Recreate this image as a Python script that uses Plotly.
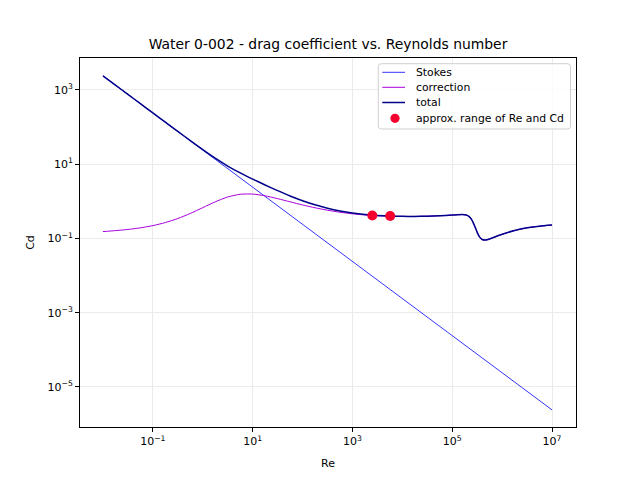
import plotly.graph_objects as go

# Reynolds numbers (read along the x axis)
re_vals = [1.0e-2, 1.778e-2, 3.162e-2, 5.623e-2, 1.0e-1, 1.778e-1, 3.162e-1, 5.623e-1,
           1.0, 1.778, 3.162, 5.623, 10.0, 17.78, 31.62, 56.23, 100.0, 177.8, 316.2, 562.3,
           1.0e3, 1.778e3, 3.162e3, 5.623e3, 1.0e4, 1.778e4, 3.162e4, 5.623e4,
           1.0e5, 1.259e5, 1.585e5, 1.778e5, 1.995e5, 2.239e5, 2.512e5, 2.818e5, 3.162e5,
           3.548e5, 3.981e5, 4.467e5, 5.012e5, 5.623e5, 6.310e5,
           1.0e6, 1.778e6, 3.162e6, 5.623e6, 1.0e7]

stokes_cd = [2400.0, 1349.6, 758.9, 426.8, 240.0, 134.96, 75.89, 42.68,
             24.0, 13.496, 7.589, 4.268, 2.4, 1.3496, 0.7589, 0.4268, 0.24, 0.13496, 0.07589, 0.04268,
             0.024, 0.013496, 0.007589, 0.004268, 0.0024, 0.0013496, 0.0007589, 0.0004268,
             0.00024, 0.0001906, 0.0001514, 0.000135, 0.0001203, 0.0001072, 0.0000955, 0.0000851, 0.0000759,
             0.0000676, 0.0000603, 0.0000537, 0.0000479, 0.0000427, 0.000038,
             0.000024, 0.0000135, 0.00000759, 0.00000427, 0.0000024]

correction_cd = [0.1527, 0.162, 0.1744, 0.1928, 0.2212, 0.2672, 0.3434, 0.470,
                 0.673, 0.967, 1.306, 1.547, 1.5676, 1.4045, 1.1787, 0.968, 0.7981, 0.6693, 0.5749, 0.5071,
                 0.4598, 0.4276, 0.4070, 0.3952, 0.3903, 0.3911, 0.3971, 0.4084,
                 0.4254, 0.4335, 0.4380, 0.4336, 0.4164, 0.3748, 0.3018, 0.2145, 0.1458,
                 0.1083, 0.0933, 0.0902, 0.0924, 0.0971, 0.1029,
                 0.1296, 0.1634, 0.1925, 0.2141, 0.2287]

total_cd = [2400.15, 1349.76, 759.07, 426.99, 240.22, 135.23, 76.23, 43.15,
            24.67, 14.46, 8.895, 5.815, 3.968, 2.754, 1.938, 1.395, 1.038, 0.804, 0.651, 0.550,
            0.4838, 0.4411, 0.4146, 0.3995, 0.3927, 0.3924, 0.3979, 0.4088,
            0.4256, 0.4337, 0.4382, 0.4337, 0.4165, 0.3749, 0.3019, 0.2146, 0.1459,
            0.1084, 0.0934, 0.0903, 0.0924, 0.0971, 0.1029,
            0.1296, 0.1634, 0.1925, 0.2141, 0.2287]

range_re = [2500.0, 5700.0]
range_cd = [0.415, 0.400]

series_names = ["Stokes", "correction", "total", "approx. range of Re and Cd"]
series_colors = ["#0000ff", "#a800dc", "#00008b", "#f5002f"]

x_tickvals = [1e-1, 1e1, 1e3, 1e5, 1e7]
x_ticktext = ["10<sup>\u22121</sup>", "10<sup>1</sup>", "10<sup>3</sup>", "10<sup>5</sup>", "10<sup>7</sup>"]
y_tickvals = [1e-5, 1e-3, 1e-1, 1e1, 1e3]
y_ticktext = ["10<sup>\u22125</sup>", "10<sup>\u22123</sup>", "10<sup>\u22121</sup>", "10<sup>1</sup>", "10<sup>3</sup>"]

font = "DejaVu Sans, Arial, sans-serif"

# plot area in pixels
L, R, T, B = 80, 576, 58, 427
W, H = 640, 480


def px(x):
    return (x - L) / (R - L)


def py(y):
    return (B - y) / (B - T)


fig = go.Figure()
fig.add_trace(go.Scatter(x=re_vals, y=stokes_cd, mode="lines", name=series_names[0],
                         line=dict(color=series_colors[0], width=0.8)))
fig.add_trace(go.Scatter(x=re_vals, y=correction_cd, mode="lines", name=series_names[1],
                         line=dict(color=series_colors[1], width=1.0, shape="spline", smoothing=0.6)))
fig.add_trace(go.Scatter(x=re_vals, y=total_cd, mode="lines", name=series_names[2],
                         line=dict(color=series_colors[2], width=1.5, shape="spline", smoothing=0.6)))
fig.add_trace(go.Scatter(x=range_re, y=range_cd, mode="markers", name=series_names[3],
                         marker=dict(color=series_colors[3], size=10, line=dict(width=0))))

# matplotlib-style legend box drawn by hand (compact rows)
bx0, bx1, by0, by1, rad = 378.3, 570.5, 63.7, 129.0, 3.0
path = (f"M {px(bx0 + rad)},{py(by0)} L {px(bx1 - rad)},{py(by0)} "
        f"Q {px(bx1)},{py(by0)} {px(bx1)},{py(by0 + rad)} "
        f"L {px(bx1)},{py(by1 - rad)} Q {px(bx1)},{py(by1)} {px(bx1 - rad)},{py(by1)} "
        f"L {px(bx0 + rad)},{py(by1)} Q {px(bx0)},{py(by1)} {px(bx0)},{py(by1 - rad)} "
        f"L {px(bx0)},{py(by0 + rad)} Q {px(bx0)},{py(by0)} {px(bx0 + rad)},{py(by0)} Z")
shapes = [dict(type="path", path=path, xref="paper", yref="paper",
               line=dict(color="#d0d0d0", width=1), fillcolor="rgba(255,255,255,0.8)", layer="above")]
annotations = []
row_y = [72.3, 87.3, 102.5, 118.3]
line_w = [0.8, 1.0, 1.5]
for i, name in enumerate(series_names):
    yy = py(row_y[i])
    if i < 3:
        shapes.append(dict(type="line", xref="paper", yref="paper", x0=px(382.3), x1=px(405.0),
                           y0=yy, y1=yy, line=dict(color=series_colors[i], width=line_w[i]), layer="above"))
    else:
        r = 4.6
        shapes.append(dict(type="circle", xref="paper", yref="paper",
                           x0=px(395.0 - r), x1=px(395.0 + r), y0=py(row_y[i] + r), y1=py(row_y[i] - r),
                           fillcolor=series_colors[i], line=dict(width=0), layer="above"))
    annotations.append(dict(text=name, xref="paper", yref="paper", x=px(413.5), y=yy,
                            xanchor="left", yanchor="middle", showarrow=False,
                            font=dict(family=font, size=10.8, color="black")))

axis_common = dict(type="log", showline=True, linecolor="black", linewidth=1, mirror=True,
                   ticks="outside", ticklen=4, tickcolor="black", tickwidth=1,
                   showgrid=True, gridcolor="#ebebeb", gridwidth=1, zeroline=False,
                   tickfont=dict(family=font, size=11, color="black"))

fig.update_layout(
    width=W, height=H,
    margin=dict(l=L, r=W - R, t=T, b=H - B),
    paper_bgcolor="white", plot_bgcolor="white",
    title=dict(text="Water 0-002 - drag coefficient vs. Reynolds number",
               x=px(328) * (R - L) / W + L / W, xanchor="center", y=1 - 44 / H, yanchor="middle",
               font=dict(family=font, size=13.9, color="black")),
    xaxis=dict(range=[-2.46, 7.48], tickvals=x_tickvals, ticktext=x_ticktext,
               title=dict(text="Re", font=dict(family=font, size=11, color="black"), standoff=12),
               **axis_common),
    yaxis=dict(range=[-6.08, 3.86], tickvals=y_tickvals, ticktext=y_ticktext,
               title=dict(text="Cd", font=dict(family=font, size=11, color="black"), standoff=10),
               **axis_common),
    shapes=shapes,
    annotations=annotations,
    showlegend=False,
)

fig.write_html("out.html")
